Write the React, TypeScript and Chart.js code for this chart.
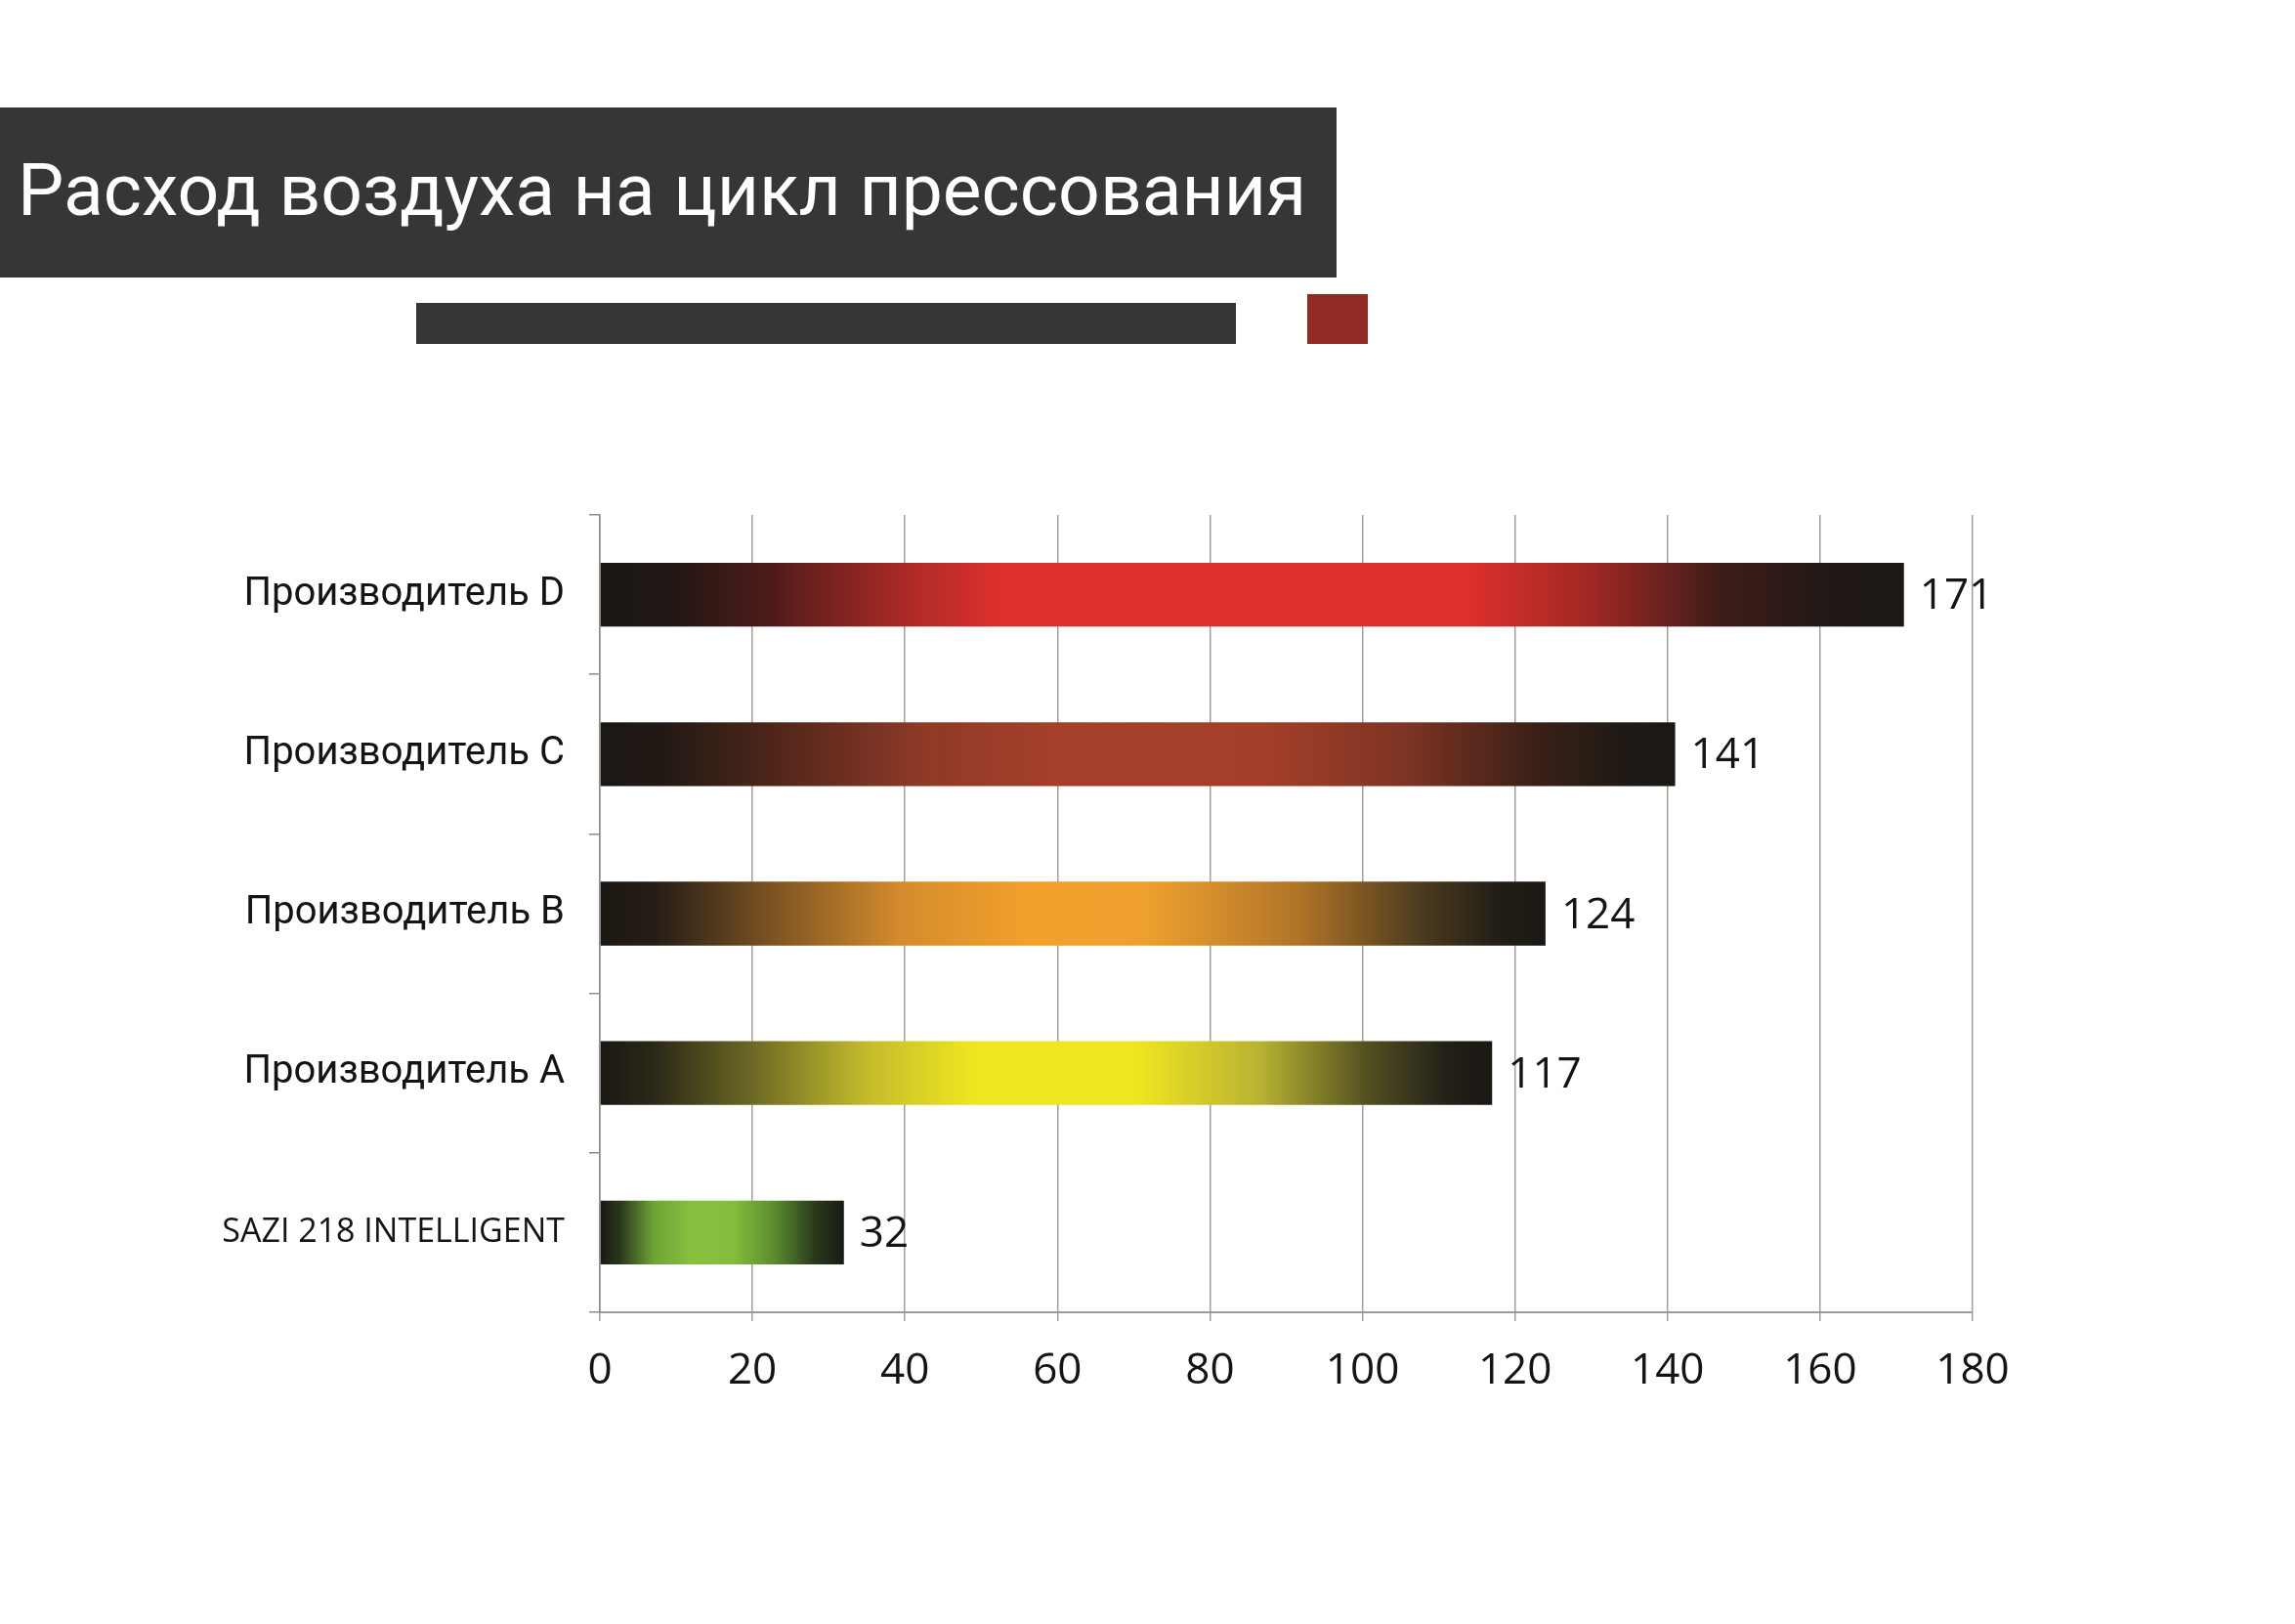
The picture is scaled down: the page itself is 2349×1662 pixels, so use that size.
import React, { useEffect, useRef } from 'react';
import Chart from 'chart.js/auto';

const title = 'Расход воздуха на цикл прессования';
const categories = ['Производитель D', 'Производитель C', 'Производитель B', 'Производитель A', 'SAZI 218 INTELLIGENT'];
const values = [171, 141, 124, 117, 32];
const axisMax = 180;
const axisStep = 20;

// gradient stops per bar (dark edges, bright middle)
const barStops = [
  [[0, '#1b1714'], [0.05, '#1f1714'], [0.13, '#4c1b19'], [0.23, '#a82a26'], [0.31, '#e0302c'], [0.66, '#e0302c'], [0.76, '#a02824'], [0.86, '#3e1c18'], [0.94, '#221916'], [1, '#1b1714']],
  [[0, '#1b1714'], [0.06, '#221914'], [0.16, '#4e2619'], [0.3, '#8e3a27'], [0.42, '#a43f2b'], [0.62, '#a23e2a'], [0.75, '#7e3423'], [0.87, '#3a2017'], [0.95, '#201a15'], [1, '#1b1714']],
  [[0, '#1b1714'], [0.06, '#261e15'], [0.18, '#7a5222'], [0.32, '#d68c2c'], [0.45, '#f2a02c'], [0.58, '#eea02e'], [0.74, '#b07428'], [0.87, '#4a3a1e'], [0.95, '#221e16'], [1, '#1b1714']],
  [[0, '#1b1714'], [0.06, '#2a2817'], [0.17, '#6c6824'], [0.3, '#c4bc2c'], [0.42, '#f0e620'], [0.6, '#f0e620'], [0.74, '#b8b232'], [0.86, '#525020'], [0.95, '#222018'], [1, '#1b1714']],
  [[0, '#1a1a14'], [0.08, '#28361a'], [0.22, '#6ea336'], [0.38, '#88c03e'], [0.55, '#84bc3c'], [0.72, '#5a8a2c'], [0.88, '#2a3a1c'], [1, '#1a1a14']],
];

const valueLabels = {
  id: 'valueLabels',
  afterDatasetsDraw(chart) {
    const { ctx } = chart;
    const meta = chart.getDatasetMeta(0);
    ctx.save();
    ctx.font = '44px "Open Sans"';
    ctx.fillStyle = '#141414';
    ctx.textBaseline = 'middle';
    ctx.textAlign = 'left';
    meta.data.forEach((bar, i) => {
      ctx.fillText(String(values[i]), bar.x + 16, bar.y + 2);
    });
    ctx.restore();
  },
};

const BarChart = () => {
  const chartRef = useRef(null);

  useEffect(() => {
    document.body.style.margin = '0';
    const ctx = chartRef.current.getContext('2d');

    const myChart = new Chart(ctx, {
      type: 'bar',
      data: {
        labels: categories,
        datasets: [
          {
            data: values,
            barPercentage: 0.4,
            categoryPercentage: 1,
            borderWidth: 0,
            backgroundColor: (c) => {
              const chart = c.chart;
              if (!chart.chartArea || c.dataIndex === undefined) return '#333';
              const xs = chart.scales.x;
              const x0 = xs.getPixelForValue(0);
              const x1 = xs.getPixelForValue(values[c.dataIndex]);
              const g = chart.ctx.createLinearGradient(x0, 0, x1, 0);
              barStops[c.dataIndex].forEach(([p, col]) => g.addColorStop(p, col));
              return g;
            },
          },
        ],
      },
      options: {
        indexAxis: 'y',
        responsive: false,
        animation: false,
        devicePixelRatio: 1,
        layout: { padding: { top: 527, right: 330, bottom: 209, left: 0 } },
        plugins: { legend: { display: false }, tooltip: { enabled: false } },
        scales: {
          x: {
            min: 0,
            max: axisMax,
            afterFit: (s) => { s.height = 110; },
            ticks: {
              stepSize: axisStep,
              padding: 25,
              color: '#141414',
              font: { family: '"Open Sans"', size: 44 },
            },
            grid: { color: '#a89e97', lineWidth: 1.5, tickLength: 9 },
            border: { color: '#9a9a9a', width: 2 },
          },
          y: {
            afterFit: (s) => { s.width = 614; },
            ticks: {
              padding: 25,
              color: '#141414',
              font: (c) => (c.index === 4
                ? { family: '"Open Sans"', size: 34 }
                : { family: 'Roboto', size: 40 }),
            },
            grid: { drawOnChartArea: false, offset: true, color: '#8c8c8c', lineWidth: 1.5, tickLength: 11 },
            border: { color: '#8c8c8c', width: 1.5 },
          },
        },
      },
      plugins: [valueLabels],
    });

    return () => {
      myChart.destroy();
    };
  }, []);

  return <canvas ref={chartRef} width="2349" height="1662" style={{ position: 'absolute', left: 0, top: 0 }} />;
};

const App = () => (
  <div style={{ position: 'relative', width: 2349, height: 1662, background: '#fff', overflow: 'hidden' }}>
    <BarChart />
    <div style={{ position: 'absolute', left: 0, top: 110, width: 1368, height: 174, background: '#363636' }} />
    <div
      style={{
        position: 'absolute', left: 18, top: 144, color: '#fff', fontFamily: 'Roboto',
        fontSize: 75, lineHeight: '100px', whiteSpace: 'nowrap',
      }}
    >
      {title}
    </div>
    <div style={{ position: 'absolute', left: 426, top: 310, width: 839, height: 42, background: '#363636' }} />
    <div style={{ position: 'absolute', left: 1338, top: 301, width: 62, height: 51, background: '#922a25' }} />
  </div>
);

export default App;
